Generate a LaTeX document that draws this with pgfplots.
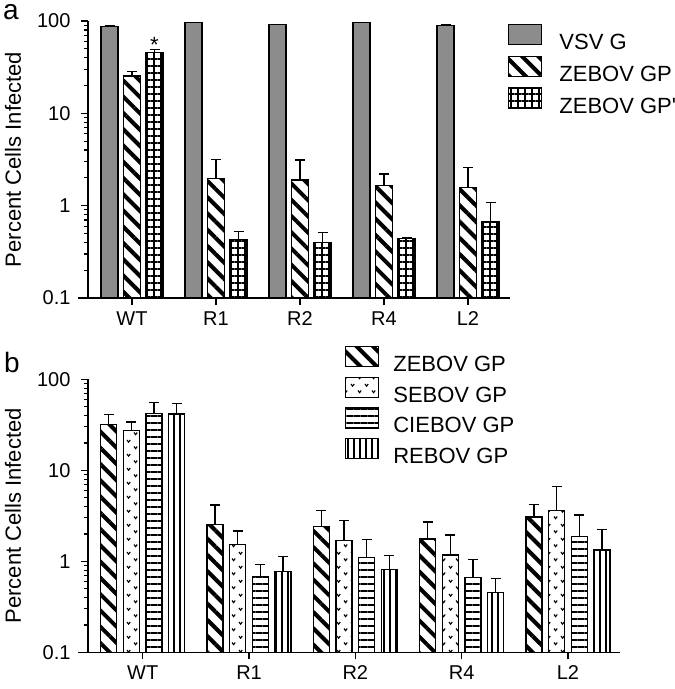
\documentclass[border=0pt]{standalone}
\usepackage{fontspec}
\setmainfont{Liberation Sans}
\usepackage{pgfplots}
\pgfplotsset{compat=1.18}
\usepackage{pgfplotstable}
\usetikzlibrary{patterns.meta}

\newcommand\fs{\fontsize{22}{26}\selectfont}
\newcommand\ft{\fontsize{20}{24}\selectfont}

\pgfdeclarepattern{
  name=vmarks,
  type=uncolored,
  bottom left={\pgfpoint{-1pt}{-1pt}},
  top right={\pgfpoint{15pt}{15pt}},
  tile size={\pgfpoint{14pt}{14pt}},
  code={
    \pgfsetlinewidth{1.1pt}
    \pgfpathmoveto{\pgfpoint{1pt}{11pt}}\pgfpathlineto{\pgfpoint{2.6pt}{8.8pt}}\pgfpathlineto{\pgfpoint{4.2pt}{11pt}}
    \pgfpathmoveto{\pgfpoint{8pt}{4.5pt}}\pgfpathlineto{\pgfpoint{9.6pt}{2.3pt}}\pgfpathlineto{\pgfpoint{11.2pt}{4.5pt}}
    \pgfusepath{stroke}
  }
}

\pgfplotstableread{
x v ve z ze q qe
0 87 2 25.4 2.9 45.5 4
1 96 0 1.95 1.23 0.433 0.087
2 92.3 0 1.90 1.23 0.397 0.113
3 96.6 0 1.65 0.55 0.44 0.01
4 88.5 2 1.57 1.01 0.666 0.42
}\dataA

\pgfplotstableread{
x z ze s se c ce r re
0 32 9 27.2 6.8 42.3 13 41.6 12.9
1 2.55 1.61 1.54 0.61 0.68 0.25 0.776 0.36
2 2.40 1.2 1.68 1.14 1.11 0.64 0.817 0.35
3 1.76 0.94 1.17 0.78 0.66 0.38 0.45 0.2
4 3.07 1.16 3.6 3.0 1.86 1.37 1.33 0.92
}\dataB

\tikzset{
  sV/.style={fill=black!45},
  sZ/.style={pattern={Lines[angle=-45,distance=11.5pt,line width=4pt]}},
  sQ/.style={pattern={Hatch[angle=0,distance=7pt,line width=1.5pt]}},
  sS/.style={pattern=vmarks},
  sC/.style={pattern={Lines[angle=0,distance=7pt,line width=1.8pt]}},
  sR/.style={pattern={Lines[angle=90,distance=6pt,line width=1.5pt]}},
}
\pgfplotsset{
  errp/.style={forget plot, draw=none, mark=none,
    error bars/.cd, y dir=plus, y explicit,
    error bar style={draw=black, line width=1.2pt, solid},
    error mark options={draw=black, line width=1.2pt, mark size=5pt, rotate=90}},
}

\begin{document}
\begin{tikzpicture}
\path[use as bounding box] (0,0) rectangle (675pt,689pt);

\begin{axis}[at={(88pt,391pt)}, anchor=south west,
  scale only axis, width=422pt, height=277pt, xmin=-0.524, xmax=4.5,
  ymode=log, log origin y=infty, ymin=0.1, ymax=100,
  ytick={0.1,1,10,100}, yticklabels={0.1,1,10,100},
  xtick={0,1,2,3,4}, xticklabels={WT,R1,R2,R4,L2},
  axis x line=bottom, axis y line=left,
  axis line style={-, line width=1.3pt, black},
  x axis line style={shorten <=-10pt},
  tick align=outside, major tick length=7pt, minor tick length=4pt,
  every tick/.style={black, line width=1.2pt},
  tick label style={font=\ft},
  yticklabel style={xshift=-7pt},
  xticklabel style={yshift=-3pt},
  /pgf/number format/assume math mode=true,
  ylabel={Percent Cells Infected},
  every axis y label/.style={at={(axis description cs:-0.1777,0.5)}, rotate=90, anchor=center, font=\fs},
  legend cell align=left,
  legend style={draw=none, fill=none, inner sep=0pt, font=\fs, anchor=north west,
    at={(0.9953,0.9891)}, row sep=2.6pt,
    /tikz/every odd column/.append style={column sep=15pt}}]
\addplot[forget plot, ybar, bar width=17pt, bar shift=-22.5pt, draw=black, line width=1.2pt, sV]
  table[x=x, y=v] {\dataA};
\addplot[forget plot, ybar, bar width=17pt, bar shift=0pt, draw=black, line width=1.2pt, sZ]
  table[x=x, y=z] {\dataA};
\addplot[forget plot, ybar, bar width=17pt, bar shift=22.5pt, draw=black, line width=1.2pt, sQ]
  table[x=x, y=q] {\dataA};
\addplot[errp] table[x expr=\thisrow{x}-0.26786, y=v, y error plus=ve] {\dataA};
\addplot[errp] table[x=x, y=z, y error plus=ze] {\dataA};
\addplot[errp] table[x expr=\thisrow{x}+0.26786, y=q, y error plus=qe] {\dataA};
\addlegendimage{legend image code/.code={\draw[black, line width=1.2pt, sV] (0pt,-2pt) rectangle (33pt,18pt);}}
\addlegendentry{VSV G}
\addlegendimage{legend image code/.code={\draw[black, line width=1.2pt, sZ] (0pt,-2pt) rectangle (33pt,18pt);}}
\addlegendentry{ZEBOV GP}
\addlegendimage{legend image code/.code={\draw[black, line width=1.2pt, sQ] (0pt,-2pt) rectangle (33pt,18pt);}}
\addlegendentry{ZEBOV GP\textquotesingle}
\node[anchor=base, xshift=22.5pt, font=\fs] at (axis cs:0,45.5) {*};
\end{axis}

\begin{axis}[at={(88pt,36.7pt)}, anchor=south west,
  scale only axis, width=532pt, height=273pt, xmin=-0.515, xmax=4.49,
  ymode=log, log origin y=infty, ymin=0.1, ymax=100,
  ytick={0.1,1,10,100}, yticklabels={0.1,1,10,100},
  xtick={0,1,2,3,4}, xticklabels={WT,R1,R2,R4,L2},
  axis x line=bottom, axis y line=left,
  axis line style={-, line width=1.3pt, black},
  x axis line style={shorten <=-10pt},
  tick align=outside, major tick length=7pt, minor tick length=4pt,
  every tick/.style={black, line width=1.2pt},
  tick label style={font=\ft},
  yticklabel style={xshift=-7pt},
  xticklabel style={yshift=-3pt},
  /pgf/number format/assume math mode=true,
  ylabel={Percent Cells Infected},
  every axis y label/.style={at={(axis description cs:-0.141,0.5)}, rotate=90, anchor=center, font=\fs},
  legend cell align=left,
  legend style={draw=none, fill=none, inner sep=0pt, font=\fs, anchor=north west,
    at={(0.483,1.122)}, row sep=1.6pt,
    /tikz/every odd column/.append style={column sep=12pt}}]
\addplot[forget plot, ybar, bar width=16pt, bar shift=-34pt, draw=black, line width=1.2pt, sZ]
  table[x=x, y=z] {\dataB};
\addplot[forget plot, ybar, bar width=16pt, bar shift=-11.3pt, draw=black, line width=1.2pt, sS]
  table[x=x, y=s] {\dataB};
\addplot[forget plot, ybar, bar width=16pt, bar shift=11.3pt, draw=black, line width=1.2pt, sC]
  table[x=x, y=c] {\dataB};
\addplot[forget plot, ybar, bar width=16pt, bar shift=34pt, draw=black, line width=1.2pt, sR]
  table[x=x, y=r] {\dataB};
\addplot[errp] table[x expr=\thisrow{x}-0.31988, y=z, y error plus=ze] {\dataB};
\addplot[errp] table[x expr=\thisrow{x}-0.10631, y=s, y error plus=se] {\dataB};
\addplot[errp] table[x expr=\thisrow{x}+0.10631, y=c, y error plus=ce] {\dataB};
\addplot[errp] table[x expr=\thisrow{x}+0.31988, y=r, y error plus=re] {\dataB};
\addlegendimage{legend image code/.code={\draw[black, line width=1.2pt, sZ] (0pt,-2pt) rectangle (33pt,18pt);}}
\addlegendentry{ZEBOV GP}
\addlegendimage{legend image code/.code={\draw[black, line width=1.2pt, sS] (0pt,-2pt) rectangle (33pt,18pt);}}
\addlegendentry{SEBOV GP}
\addlegendimage{legend image code/.code={\draw[black, line width=1.2pt, sC] (0pt,-2pt) rectangle (33pt,18pt);}}
\addlegendentry{CIEBOV GP}
\addlegendimage{legend image code/.code={\draw[black, line width=1.2pt, sR] (0pt,-2pt) rectangle (33pt,18pt);}}
\addlegendentry{REBOV GP}
\end{axis}

\node[anchor=base west, inner sep=0pt, font=\fontsize{28}{30}\selectfont] at (3pt,669pt) {a};
\node[anchor=base west, inner sep=0pt, font=\fontsize{28}{30}\selectfont] at (4pt,316pt) {b};
\end{tikzpicture}
\end{document}
